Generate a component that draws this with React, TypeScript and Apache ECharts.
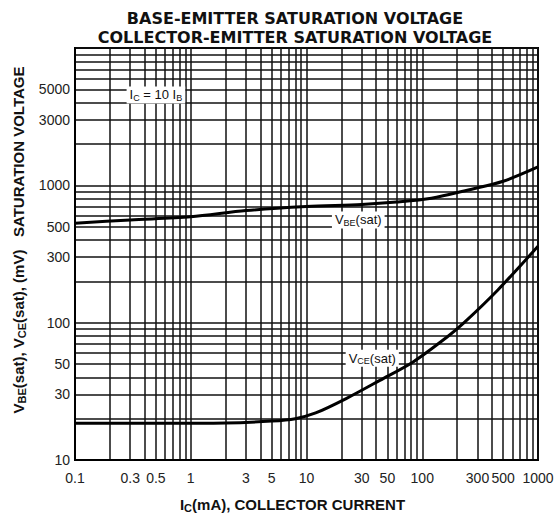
import React, { useEffect, useRef } from 'react';
import * as echarts from 'echarts';

const FONT = '"Liberation Sans", Arial, Helvetica, sans-serif';
const TITLE_FONT = '"DejaVu Sans", "Liberation Sans", sans-serif';

const TITLE_LINES = ['BASE-EMITTER SATURATION VOLTAGE', 'COLLECTOR-EMITTER SATURATION VOLTAGE'];
const X_NAME = 'I{sub|C}(mA), COLLECTOR CURRENT';
const Y_NAME = 'V{sub|BE}(sat), V{sub|CE}(sat), (mV)   SATURATION VOLTAGE';

const X_TICK_VALUES = [0.1, 0.3, 0.5, 1, 3, 5, 10, 30, 50, 100, 300, 500, 1000];
const X_TICK_LABELS = ['0.1', '0.3', '0.5', '1', '3', '5', '10', '30', '50', '100', '300', '500', '1000'];
const Y_TICK_VALUES = [10, 30, 50, 100, 300, 500, 1000, 3000, 5000];
const Y_TICK_LABELS = ['10', '30', '50', '100', '300', '500', '1000', '3000', '5000'];

// V_BE(sat) curve: collector current (mA) and voltage (mV)
const VBE_IC = [0.1, 0.3, 1, 3, 10, 30, 60, 120, 250, 500, 1000];
const VBE_MV = [530, 560, 590, 655, 700, 725, 755, 805, 925, 1070, 1360];

// V_CE(sat) curve
const VCE_IC = [0.1, 0.5, 2, 5, 8, 12, 22, 43, 84, 165, 230, 450, 1000];
const VCE_MV = [18.5, 18.5, 18.6, 19.2, 20, 22, 28, 38, 52, 79, 100, 173, 360];

// annotation anchors (data coordinates)
const VBE_LABEL_AT = [28, 560];
const VCE_LABEL_AT = [37, 55];
const IC_NOTE_AT = [0.5, 4550];

function logGrid(minExp: number, maxExp: number): number[] {
  const out: number[] = [];
  for (let e = minExp; e < maxExp; e++) {
    for (let m = 1; m < 10; m++) out.push(Number((m * Math.pow(10, e)).toPrecision(6)));
  }
  out.push(Math.pow(10, maxExp));
  return out;
}

const X_GRID = logGrid(-1, 3);
const Y_GRID = logGrid(1, 4);

function lookup(values: number[], labels: string[]) {
  return (v: number) => {
    for (let i = 0; i < values.length; i++) {
      if (Math.abs(v - values[i]) <= values[i] * 1e-6) return labels[i];
    }
    return '';
  };
}

const subRich = (size: number, weight: string) => ({
  sub: { fontSize: size - 4, fontWeight: weight, fontFamily: FONT, color: '#111', padding: [Math.round(size * 0.45), 0, 0, 0] },
});

function noteLabel(text: string, size: number) {
  return {
    show: true,
    position: 'inside',
    formatter: text,
    color: '#111',
    fontSize: size,
    fontFamily: FONT,
    backgroundColor: '#fff',
    padding: [1, 3, 1, 3],
    rich: subRich(size, 'normal'),
  };
}

export default function App() {
  const ref = useRef<HTMLDivElement>(null);

  useEffect(() => {
    if (!ref.current) return;
    const chart = echarts.init(ref.current, undefined, { renderer: 'svg' });
    const gridLine = { show: true, lineStyle: { color: '#111', width: 1.5 } };
    chart.setOption({
      animation: false,
      backgroundColor: '#fff',
      title: {
        text: TITLE_LINES.join('\n'),
        left: 290,
        top: 4,
        textAlign: 'center',
        textStyle: { fontFamily: TITLE_FONT, fontSize: 16, fontWeight: 'bold', color: '#111', lineHeight: 19 },
      },
      grid: {
        left: 75,
        right: 22,
        top: 48,
        bottom: 57,
        show: true,
        borderColor: '#000',
        borderWidth: 2,
        backgroundColor: 'transparent',
        outerBoundsMode: 'none',
      },
      xAxis: {
        type: 'log',
        logBase: 10,
        min: 0.1,
        max: 1000,
        name: X_NAME,
        nameLocation: 'middle',
        nameGap: 35,
        nameTextStyle: {
          fontFamily: FONT,
          fontSize: 15,
          fontWeight: 'bold',
          color: '#111',
          padding: [0, 28, 0, 0],
          rich: subRich(15, 'bold'),
        },
        axisLine: { show: true, lineStyle: { color: '#000', width: 2 } },
        axisTick: { show: false, customValues: X_GRID },
        splitLine: gridLine,
        axisLabel: {
          customValues: X_TICK_VALUES,
          formatter: lookup(X_TICK_VALUES, X_TICK_LABELS),
          color: '#222',
          fontSize: 14,
          fontFamily: FONT,
          margin: 11,
        },
      },
      yAxis: {
        type: 'log',
        logBase: 10,
        min: 10,
        max: 10000,
        name: Y_NAME,
        nameLocation: 'middle',
        nameGap: 43,
        nameTextStyle: {
          fontFamily: FONT,
          fontSize: 15,
          fontWeight: 'bold',
          color: '#111',
          padding: [0, 0, 0, 28],
          rich: subRich(15, 'bold'),
        },
        axisLine: { show: true, lineStyle: { color: '#000', width: 2 } },
        axisTick: { show: false, customValues: Y_GRID },
        splitLine: gridLine,
        axisLabel: {
          customValues: Y_TICK_VALUES,
          formatter: lookup(Y_TICK_VALUES, Y_TICK_LABELS),
          color: '#222',
          fontSize: 14,
          fontFamily: FONT,
          margin: 5,
        },
      },
      series: [
        {
          name: 'VBE(sat)',
          type: 'line',
          data: VBE_IC.map((x, i) => [x, VBE_MV[i]]),
          smooth: 0.3,
          showSymbol: false,
          lineStyle: { color: '#000', width: 3 },
          z: 5,
          markPoint: {
            symbol: 'rect',
            symbolSize: 1,
            itemStyle: { color: 'rgba(0,0,0,0)' },
            data: [
              { coord: VBE_LABEL_AT, label: noteLabel('V{sub|BE}(sat)', 13) },
              { coord: IC_NOTE_AT, label: noteLabel('I{sub|C} = 10 I{sub|B}', 13) },
            ],
          },
        },
        {
          name: 'VCE(sat)',
          type: 'line',
          data: VCE_IC.map((x, i) => [x, VCE_MV[i]]),
          smooth: 0.3,
          showSymbol: false,
          lineStyle: { color: '#000', width: 3 },
          z: 5,
          markPoint: {
            symbol: 'rect',
            symbolSize: 1,
            itemStyle: { color: 'rgba(0,0,0,0)' },
            data: [{ coord: VCE_LABEL_AT, label: noteLabel('V{sub|CE}(sat)', 13) }],
          },
        },
      ],
    });
    return () => chart.dispose();
  }, []);

  return (
    <div
      ref={ref}
      style={{ position: 'absolute', left: 0, top: 0, width: 560, height: 517, background: '#fff' }}
    />
  );
}
